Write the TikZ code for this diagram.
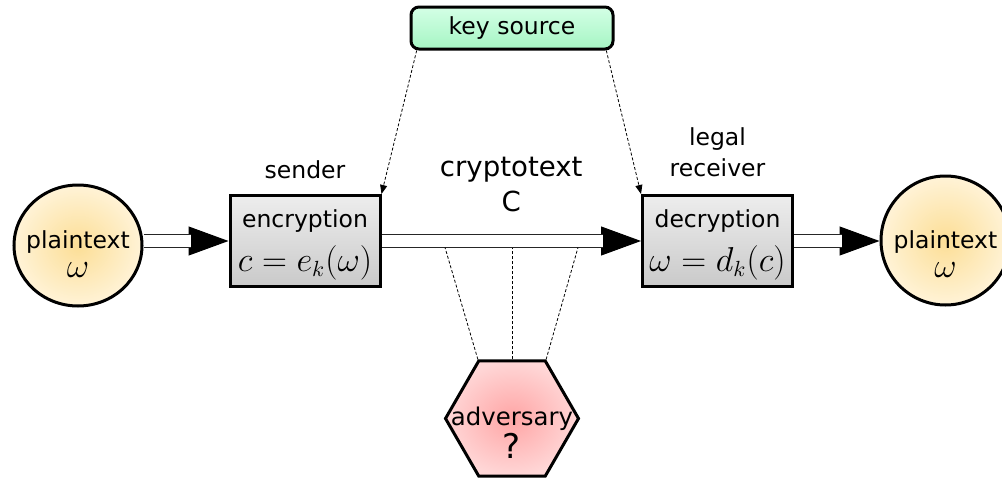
\documentclass[tikz,border=0pt]{standalone}
\usepackage{fontspec}
\setmainfont{DejaVu Sans}
\usetikzlibrary{shapes.geometric, arrows.meta, calc}
\newcommand\mybig{\fontsize{16}{18}\selectfont}
\newcommand\zw[1]{\makebox[0pt]{#1}}
\definecolor{plainin}{RGB}{252,222,150}
\definecolor{plainout}{RGB}{255,243,215}
\definecolor{keytop}{RGB}{212,255,230}
\definecolor{keybot}{RGB}{165,245,195}
\definecolor{advin}{RGB}{255,165,165}
\definecolor{advout}{RGB}{255,215,215}
\begin{document}
\begin{tikzpicture}[x=0.5pt, y=-0.5pt,
  plainnode/.style={draw, line width=1.5pt, shading=radial, inner color=plainin, outer color=plainout,
    inner sep=0pt, align=center, font=\fontsize{11.75}{14.5}\selectfont},
  boxnode/.style={draw, line width=1.5pt, top color=black!7, bottom color=black!21,
    minimum width=75pt, minimum height=45.5pt, inner sep=0pt, align=center,
    font=\fontsize{11.75}{22}\selectfont},
  keybox/.style={draw, line width=1.5pt, rounded corners=4pt, top color=keytop, bottom color=keybot,
    minimum width=101pt, minimum height=21pt, inner sep=0pt, font=\fontsize{11.75}{14}\selectfont},
  hexa/.style={regular polygon, regular polygon sides=6, minimum size=66.5pt, draw, line width=1.5pt,
    shading=radial, inner color=advin, outer color=advout, inner sep=0pt, align=center,
    font=\fontsize{12.2}{16.5}\selectfont},
  lbl/.style={inner sep=0pt, font=\fontsize{11.75}{15.5}\selectfont},
  dbltip/.style={line width=0.5pt, -{Triangle[length=20pt,width=14.5pt]}},
  dbl/.style={draw=black!85, line width=0.6pt, double=white, double distance=6pt, shorten >=19pt},
  keyarr/.style={line width=0.4pt, dash pattern=on 1.5pt off 1pt, -{Triangle[length=4.5pt,width=3.5pt]}},
  advline/.style={line width=0.4pt, dash pattern=on 1.5pt off 1pt}
]
\useasboundingbox (0,0) rectangle (1002,477);

% nodes
\node[plainnode, ellipse, minimum width=64pt, minimum height=60.5pt] (p1) at (78,245.5)
  {\zw{\rule{0pt}{17pt}plaintext}\\\zw{\mybig$\omega$}};
\node[plainnode, circle, minimum size=64.5pt] (p2) at (945.5,240.5)
  {\zw{\rule{0pt}{22pt}plaintext}\\\zw{\mybig$\omega$}};
\node[boxnode] (enc) at (305,241)
  {\rule{0pt}{13pt}encryption\\{\mybig$c=e_k(\omega)$}};
\node[boxnode] (dec) at (717.5,241)
  {\rule{0pt}{13pt}decryption\\{\mybig$\omega=d_k(c)$}};
\node[keybox] (key) at (512,28) {key source};
\node[hexa] (adv) at (512,418.5)
  {\zw{\rule{0pt}{23pt}adversary}\\\zw{\fontsize{17}{17}\selectfont ?}};

% labels
\node[lbl, anchor=base] (sender) at ([yshift=8pt]enc.north) {sender};
\node[lbl, anchor=south, align=center] (recv) at ([yshift=8.25pt]dec.north) {legal\\receiver};
\node[inner sep=0pt, anchor=south, align=center, font=\fontsize{13.8}{17.5}\selectfont] (ct)
  at ([yshift=14.5pt]$(enc.east)!0.5!(dec.west)$) {cryptotext\\C};

% double arrows
\draw[dbltip] (p1.east |- enc.west) -- (enc.west);
\draw[dbl] (p1.east |- enc.west) -- (enc.west);
\draw[dbltip] (enc.east) -- (dec.west);
\draw[dbl] (enc.east) -- (dec.west);
\draw[dbltip] (dec.east) -- (p2.west |- dec.east);
\draw[dbl] (dec.east) -- (p2.west |- dec.east);

% key distribution
\draw[keyarr] ($(key.south west)!0.035!(key.south east)$) -- (enc.north east);
\draw[keyarr] ($(key.south west)!0.96!(key.south east)$) -- (dec.north west);

% adversary taps
\coordinate (t1) at (445,247.5);
\coordinate (t2) at (512,247.5);
\coordinate (t3) at (578,247.5);
\draw[advline] (adv.120) -- (t1);
\draw[advline] (adv.north) -- (t2);
\draw[advline] (adv.60) -- (t3);
\end{tikzpicture}
\end{document}
